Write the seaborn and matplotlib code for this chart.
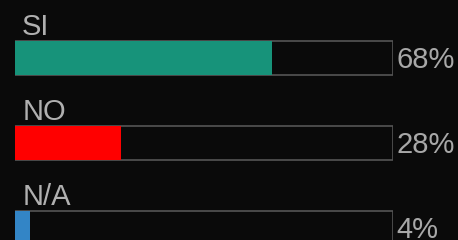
import pandas as pd
import matplotlib
matplotlib.use("Agg")
import matplotlib.pyplot as plt
import seaborn as sns

labels = ["SI", "NO", "N/A"]
values = [68, 28, 4]
colors = ["#17937a", "#ff0000", "#3385c6"]

df = pd.DataFrame({"label": labels, "value": values})
df["full"] = 100

sns.set_style("dark")
plt.rcParams["font.family"] = ["Liberation Sans", "DejaVu Sans"]

bg = "#0a0a0a"
fig = plt.figure(figsize=(4.58, 2.40), dpi=100, facecolor=bg)
ax = fig.add_axes([15 / 458, 0, 378 / 458, 1])
ax.set_facecolor(bg)

# grey outline track behind each bar
sns.barplot(data=df, x="full", y="label", orient="h", width=0.4,
            color=bg, saturation=1, edgecolor="#555555", linewidth=1.2, ax=ax)
sns.barplot(data=df, x="value", y="label", hue="label", orient="h", width=0.4,
            palette=colors, saturation=1, legend=False, linewidth=0, ax=ax)

ax.set_xlim(0, 100)
ax.set_ylim((240 - 58) / 85, -58 / 85)
ax.axis("off")

for i, (lab, val) in enumerate(zip(labels, values)):
    ax.text(1.9, i - 0.2 - 6 / 85, lab, color="#b0b0b0", fontsize=21,
            va="baseline", ha="left")
    ax.text(101.0, i + 10 / 85, f"{val}%", color="#a8a8a8", fontsize=21,
            va="baseline", ha="left", clip_on=False)

fig.savefig("out.png", dpi=100, facecolor=bg)
